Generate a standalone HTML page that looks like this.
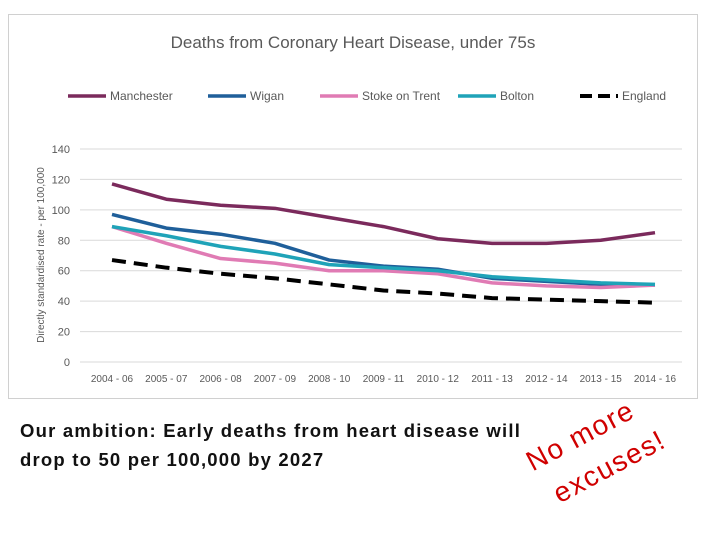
<!DOCTYPE html>
<html><head><meta charset="utf-8"><style>
body{margin:0;width:720px;height:540px;background:#fff;position:relative;overflow:hidden;font-family:"Liberation Sans",sans-serif}
#chart{position:absolute;left:0;top:0}
.amb{position:absolute;left:20px;top:416px;font-weight:bold;font-size:18.5px;line-height:29px;color:#111;letter-spacing:1.2px}
.ex{position:absolute;font-family:"Liberation Sans",sans-serif;color:#d00000;font-size:28px;line-height:28px;transform-origin:left bottom;transform:rotate(-28deg);white-space:pre;letter-spacing:1.5px}
</style></head><body>
<svg id="chart" width="720" height="410">
<rect x="8.5" y="14.5" width="689" height="384" fill="#fff" stroke="#d0d0d0"/>
<text x="353" y="48" font-size="17" fill="#595959" text-anchor="middle">Deaths from Coronary Heart Disease, under 75s</text>
<g id="legend"></g>
<g id="grid"></g><g id="series"></g>
<text transform="translate(44,255) rotate(-90)" font-size="10" fill="#595959" text-anchor="middle">Directly standardised rate - per 100,000</text>
</svg>
<div class="amb">Our ambition: Early deaths from heart disease will<br>drop to 50 per 100,000 by 2027</div>
<div class="ex" style="left:535px;top:448px">No more</div>
<div class="ex" style="left:562px;top:480px">excuses!</div>
<script>
const categories=["2004 - 06","2005 - 07","2006 - 08","2007 - 09","2008 - 10","2009 - 11","2010 - 12","2011 - 13","2012 - 14","2013 - 15","2014 - 16"];
const yTicks=[0,20,40,60,80,100,120,140];
const seriesNames=["Manchester","Wigan","Stoke on Trent","Bolton","England"];
const manchester=[117,107,103,101,95,89,81,78,78,80,85];
const wigan=[97,88,84,78,67,63,61,55,53,51,50.5];
const stoke=[89,78,68,65,60,60,58,52,50,49,50.5];
const bolton=[89,83,76,71,64,62,60,56,54,52,51];
const england=[67,62,58,55,51,47,45,42,41,40,39];
const colors=["#7b2a5c","#1f5f9a","#e07bb4","#1fa3b8","#000"];
const NS="http://www.w3.org/2000/svg";
const x=i=>112+i*54.3, y=v=>362-v*(213/140);
function mk(t,a,p){const e=document.createElementNS(NS,t);for(const k in a)e.setAttribute(k,a[k]);p.appendChild(e);return e;}
const grid=document.getElementById('grid'),ser=document.getElementById('series'),leg=document.getElementById('legend');
yTicks.forEach(v=>{
 const l=mk('line',{x1:80,x2:682,y1:y(v),y2:y(v),stroke:'#d9d9d9'},grid);
 
 
 const t=mk('text',{x:70,y:y(v)+4,'font-size':11,fill:'#595959','text-anchor':'end'},grid);
 t.textContent=v;
 
 
});
categories.forEach((c,i)=>{
 const t=mk('text',{x:x(i),y:382,'font-size':10,fill:'#595959','text-anchor':'middle'},grid);
 t.textContent=c;
 
 
});
[manchester,wigan,stoke,bolton,england].forEach((d,s)=>{
 const p=mk('polyline',{points:d.map((v,i)=>x(i)+','+y(v)).join(' '),fill:'none',stroke:colors[s],'stroke-width':s==4?4:3.5,'stroke-dasharray':s==4?'14 8':'none','stroke-linejoin':'round'},ser);
 
 
});
const lx=[68,208,320,458,580];
seriesNames.forEach((n,s)=>{
 const l=mk('line',{x1:lx[s],x2:lx[s]+38,y1:96,y2:96,stroke:colors[s],'stroke-width':s==4?4:3.5,'stroke-dasharray':s==4?'12 6':'none'},leg);
 
 
 const t=mk('text',{x:lx[s]+42,y:100,'font-size':12,fill:'#595959'},leg);
 t.textContent=n;
 
 
});
</script>
</body></html>
